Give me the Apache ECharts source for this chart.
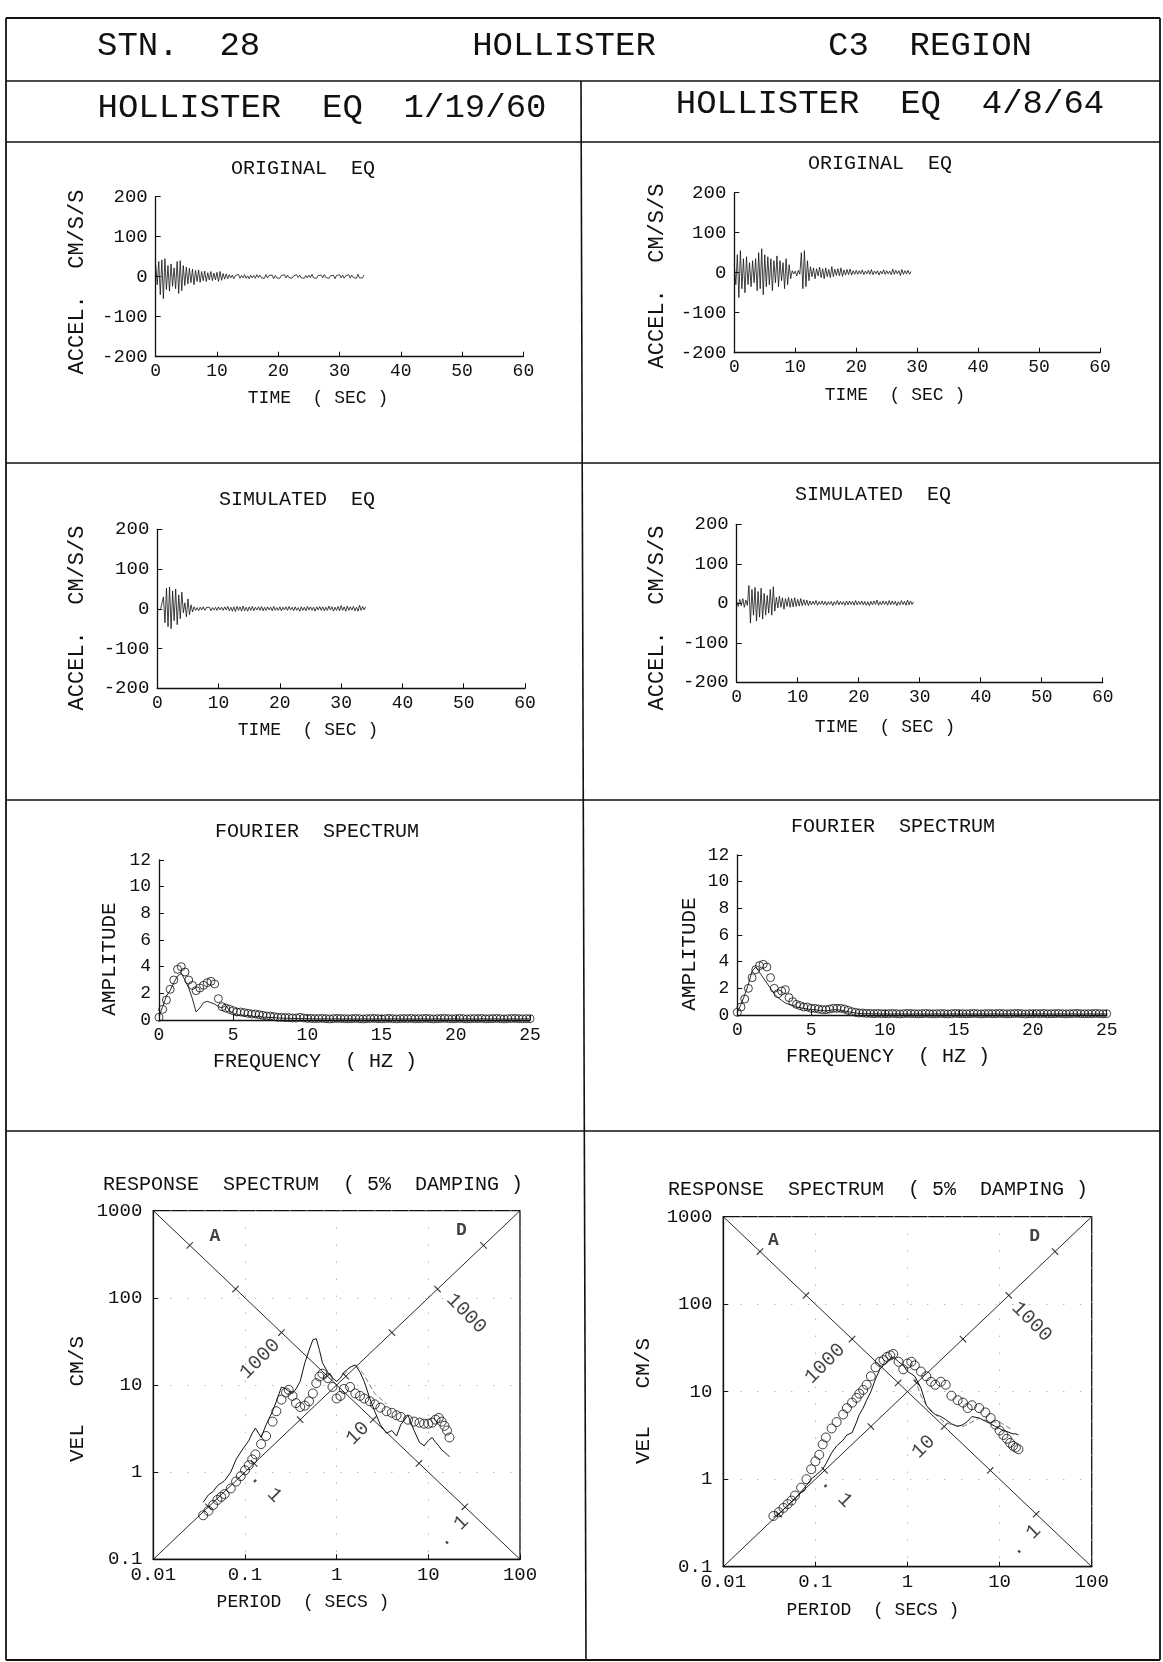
<!DOCTYPE html>
<html><head><meta charset="utf-8">
<script src="https://cdn.jsdelivr.net/npm/echarts/dist/echarts.min.js"></script>
<style>html,body{margin:0;padding:0;background:#fff}#c{width:1163px;height:1662px}</style>
</head><body><div id="c"></div><script>
// ---------------- DATA ----------------
const DT = 0.25; // seconds between samples of the acceleration records
const accelOrigL = [30,-20,38,-45,42,-55,45,-32,28,-36,32,-24,22,-30,38,-42,40,-35,28,-22,
 24,-18,21,-15,19,-20,16,-12,17,-14,13,-10,
 14,-12,10,-8,13,-10,9,-8,11,-12,13,-9,8,-6,7,-5,
 5,-3,4,-5,3,-2,6,-4,3,-3,5,-4,2,-5,4,-3,3,-4,5,-2,
 4,-3,2,-4,5,-3,3,-2,4,-5,3,-3,2,-4,3,-2,5,-3,4,-2,
 3,-4,2,-3,5,-2,4,-3,2,-4,3,-3,4,-2,6,-3,2,-4,3,-2,
 4,-3,5,-2,3,-4,2,-3,4,-5,3,-2,5,-3,4,-4,2,-3,5,-3,
 4,-2,3,-4,6,-3,2,-3,4];
const accelOrigR = [20,-30,45,-62,55,-40,35,-50,40,-30,25,-35,30,-25,35,-45,50,-40,60,-55,
 45,-35,40,-30,35,-45,30,-25,42,-35,30,-20,25,-40,35,-30,20,-15,
 5,-3,4,-8,6,-4,
 50,-40,55,-35,30,-20,
 15,-10,12,-15,10,-8,14,-12,10,-15,12,-10,8,-12,15,-10,9,-7,10,-8,12,-9,7,-6,8,-5,9,-6,5,-4,
 6,-4,5,-3,7,-5,4,-3,6,-4,8,-5,4,-3,5,-6,4,-3,7,-4,5,-3,4,-5,9,-4,6,-3,5,-7,8,-4,5,-3,6,-4,3];
const accelSimL = [0,2,-3,1,
 30,-35,52,-45,55,-50,45,-30,50,-40,35,-25,
 42,-10,15,-20,25,-15,10,-8,
 5,-4,3,-5,4,-3,5,-4,3,-2,4,-5,3,-3,4,-4,5,-3,4,-4,
 5,-3,6,-5,4,-6,5,-7,6,-4,5,-6,7,-5,4,-6,5,-4,6,-5,
 4,-3,5,-4,6,-5,4,-4,5,-3,4,-5,6,-4,3,-4,5,-5,4,-3,
 5,-4,6,-3,4,-5,5,-4,3,-6,5,-4,4,-5,6,-3,5,-4,4,-6,
 5,-3,6,-4,5,-5,4,-4,7,-3,5,-6,4,-4,6,-5,8,-4,5,-6,
 7,-4,5,-3,6,-5,4,-6,9,-4,6,-3,5];
const accelSimR = [5,-8,10,-6,12,-10,8,-5,
 45,-50,35,-30,40,-45,30,-35,38,-40,25,-30,20,-25,35,-30,42,-20,
 15,-12,18,-10,14,-15,12,-8,15,-10,12,-9,14,-8,10,-7,12,-6,9,-5,8,-6,
 6,-4,5,-3,7,-5,4,-3,6,-4,5,-5,4,-3,5,-6,4,-3,7,-4,
 5,-3,4,-5,6,-4,6,-3,5,-5,7,-4,5,-3,6,-4,5,-5,4,-6,
 5,-4,6,-3,8,-5,4,-4,6,-3,5,-5,7,-4,6,-3,5,-6,4,-4,
 7,-3,5,-5,8,-4,6,-3,4];

const freqs = [0,0.25,0.5,0.75,1,1.25,1.5,1.75,2,2.25,2.5,2.75,3,3.25,3.5,3.75,4,4.25,4.5,4.75,
 5,5.25,5.5,5.75,6,6.25,6.5,6.75,7,7.25,7.5,7.75,8,8.25,8.5,8.75,9,9.25,9.5,9.75,10,
 10.25,10.5,10.75,11,11.25,11.5,11.75,12,12.25,12.5,12.75,13,13.25,13.5,13.75,14,14.25,14.5,14.75,15,
 15.25,15.5,15.75,16,16.25,16.5,16.75,17,17.25,17.5,17.75,18,18.25,18.5,18.75,19,19.25,19.5,19.75,20,
 20.25,20.5,20.75,21,21.25,21.5,21.75,22,22.25,22.5,22.75,23,23.25,23.5,23.75,24,24.25,24.5,24.75,25];
const fourOrigL = [0.2,0.8,1.5,2.3,3.0,3.8,4.0,3.6,3.0,2.6,2.2,2.4,2.6,2.8,2.9,2.7,1.6,1.0,0.9,0.8,
 0.7,0.6,0.6,0.55,0.5,0.45,0.45,0.4,0.35,0.3,0.3,0.25,0.2,0.2,0.18,0.18,0.15,0.15,0.2,0.15,0.12,
 0.12,0.1,0.11,0.12,0.1,0.08,0.1,0.12,0.11,0.1,
 0.09,0.1,0.12,0.1,0.08,0.1,0.11,0.12,0.1,0.09,
 0.1,0.12,0.1,0.08,0.1,0.11,0.1,0.12,0.09,0.1,
 0.1,0.12,0.1,0.08,0.1,0.11,0.12,0.1,0.09,0.1,
 0.12,0.1,0.08,0.1,0.11,0.1,0.12,0.09,0.1,0.1,
 0.12,0.1,0.08,0.1,0.11,0.12,0.1,0.09,0.1,0.1];
const fourSimL = [0.3,1.0,1.8,2.2,2.8,3.3,3.5,3.0,2.4,1.6,0.6,0.9,1.3,1.4,1.3,1.2,1.0,0.9,1.1,0.7,
 0.5,0.35,0.4,0.3,0.35,0.3,0.25,0.3,0.2,0.22,0.18,0.2,0.15,0.15,0.12,0.14,0.1,0.12,0.1,0.1,0.1,
 0.08,0.09,0.07,0.08,0.09,0.07,0.08,0.1,0.07,0.08,
 0.09,0.07,0.08,0.07,0.09,0.08,0.07,0.08,0.09,0.07,
 0.08,0.07,0.09,0.08,0.07,0.08,0.09,0.07,0.08,0.07,
 0.09,0.08,0.07,0.08,0.09,0.07,0.08,0.07,0.09,0.08,
 0.07,0.08,0.09,0.07,0.08,0.07,0.09,0.08,0.07,0.08,
 0.09,0.07,0.08,0.07,0.09,0.08,0.07,0.08,0.09,0.07];
const fourOrigR = [0.2,0.6,1.2,2.0,2.8,3.4,3.7,3.8,3.6,2.8,2.0,1.6,1.8,1.9,1.3,1.0,0.8,0.7,0.6,0.6,
 0.5,0.5,0.45,0.4,0.4,0.45,0.5,0.5,0.5,0.45,0.35,0.25,0.2,0.15,0.15,0.12,0.12,0.1,0.12,0.1,0.1,
 0.1,0.12,0.1,0.08,0.1,0.12,0.11,0.1,0.09,0.1,
 0.12,0.1,0.09,0.1,0.11,0.1,0.08,0.1,0.12,0.1,
 0.1,0.09,0.1,0.12,0.1,0.08,0.1,0.11,0.1,0.1,
 0.12,0.1,0.09,0.1,0.11,0.12,0.1,0.08,0.1,0.1,
 0.11,0.1,0.12,0.09,0.1,0.1,0.12,0.1,0.08,0.1,
 0.11,0.12,0.1,0.09,0.1,0.1,0.12,0.1,0.09,0.1];
const fourSimR = [0.2,0.8,1.5,2.3,3.3,3.6,3.2,2.8,2.4,2.0,1.6,1.3,1.1,0.9,0.8,0.7,0.6,0.55,0.5,0.45,
 0.4,0.4,0.35,0.35,0.3,0.35,0.4,0.4,0.35,0.3,0.25,0.2,0.15,0.12,0.1,0.1,0.1,0.08,0.1,0.08,0.08,
 0.08,0.07,0.08,0.09,0.07,0.08,0.07,0.08,0.09,0.07,
 0.08,0.07,0.08,0.09,0.07,0.08,0.07,0.08,0.09,0.07,
 0.08,0.09,0.07,0.08,0.07,0.09,0.08,0.07,0.08,0.09,
 0.07,0.08,0.07,0.09,0.08,0.07,0.08,0.09,0.07,0.08,
 0.07,0.08,0.09,0.07,0.08,0.07,0.08,0.09,0.07,0.08,
 0.09,0.07,0.08,0.07,0.09,0.08,0.07,0.08,0.09,0.07];

const periods = [0.035,0.04,0.045,0.05,0.055,0.06,0.07,0.08,0.09,0.1,
 0.11,0.12,0.13,0.15,0.17,0.2,0.22,0.25,0.28,0.3,
 0.33,0.36,0.4,0.45,0.5,0.55,0.6,0.65,0.7,0.8,
 0.9,1.0,1.1,1.2,1.4,1.6,1.8,2.0,2.3,2.6,
 3.0,3.5,4.0,4.5,5.0,6.0,7.0,8.0,9.0,10,
 11,12,13,14,15,16,17];
const respOrigL = [0.32,0.36,0.42,0.48,0.52,0.56,0.65,0.78,0.9,1.05,
 1.2,1.4,1.6,2.1,2.6,3.8,5.0,6.8,8.2,8.8,
 7.5,6.2,5.6,5.8,6.5,8.0,10.5,12.5,13.5,12.0,
 9.5,7.0,7.5,9.0,9.5,8.0,7.5,7.0,6.5,6.0,
 5.5,5.0,4.8,4.5,4.3,4.0,3.8,3.7,3.6,3.6,
 3.7,4.0,4.2,3.8,3.4,3.0,2.5];
const respSimL = [0.45,0.55,0.6,0.7,0.75,0.8,1.0,1.4,1.7,2.0,
 2.3,2.8,3.2,2.5,3.5,5.0,6.5,9.5,9.0,8.5,
 8.0,9.0,11,18,25,33,34,25,18,14,
 12,11,12,14,16,17,14,11,7,5,
 3.5,2.8,3.0,2.6,3.5,4.5,3.0,2.2,2.0,2.3,
 2.5,2.2,2.0,1.8,1.7,1.6,1.5];
const respDashPeriodsL = [1.2,1.4,1.6,1.8,2.0,2.3,2.6,3.0,3.5];
const respDashL = [13,16,17,15,13,10,8,7,6];
const respOrigR = [0.38,0.42,0.47,0.52,0.57,0.65,0.8,1.0,1.3,1.6,
 1.9,2.5,3.0,3.8,4.5,5.5,6.5,7.5,8.5,9.5,
 10.5,12,15,19,22,23,25,26,27,22,
 18,21,22,20,17,15,13,12,13,12,
 9,8,7.5,6.5,7.0,6.5,5.8,5.0,4.2,3.6,
 3.2,2.9,2.6,2.4,2.3,2.2,null];
const respSimR = [0.37,0.4,0.45,0.5,0.55,0.6,0.72,0.85,1.0,1.1,
 1.2,1.3,1.5,2.0,2.4,2.8,3.2,3.4,4.5,5.5,
 6.5,8.0,10,14,18,20,22,24,25,22,
 20,17,16,15,11,7,6,5.5,5.2,4.8,
 4.3,4.0,4.2,4.6,5.2,5.0,4.6,4.3,4.0,3.8,
 3.6,3.5,3.4,3.3,3.3,3.2,null];
const respDashPeriodsR = [1.2,1.4,1.6,2.0,2.5,3.0,4.0,5.0,6.0,8.0,10,12,14];
const respDashR = [14,9,7,5.5,4.5,4.2,4.0,4.5,5.0,4.5,4.5,4.0,3.6];

// tripartite guide lines and their tick marks
const riseLine = [[0.01,0.1],[100,1000]];
const fallLine = [[0.01,1000],[100,0.1]];
const accelTickP = [0.025,0.079,0.25,0.79,2.5,7.9,25];
const accelTickV = [400,126,40,12.6,4,1.26,0.4];
const dispTickP = [0.04,0.126,0.4,1.26,4,12.6,40];
const dispTickV = [0.4,1.26,4,12.6,40,126,400];
// scale annotations: text, rotation, period, velocity
const annotTexts = ['A','D','1000','1000','10','. 1','. 1'];
const annotRot   = [0,0,45,-45,45,-45,45];
const annotPL = [0.047,23,0.146,26,1.7,0.17,18.5];
const annotVL = [500,600,20,66,2.8,0.68,0.21];
const annotPR = [0.035,24,0.127,22.3,1.49,0.17,18.9];
const annotVR = [540,590,21,63,2.35,0.72,0.2];

// ---------------- CHART ----------------
const INK = '#111';
const FF = 'Liberation Mono';
const FONT = '"Liberation Mono", "Courier New", monospace';
const chart = echarts.init(document.getElementById('c'), null, {renderer:'canvas'});

function pairs(xs, ys){ const o=[]; for(let i=0;i<xs.length;i++){ if(ys[i]!=null) o.push([xs[i],ys[i]]); } return o; }
function timePairs(vals){ return vals.map((v,i)=>[+(i*DT).toFixed(3), v]); }

const grids = [
 {left:155.7, top:196.7, width:367.7, height:160},
 {left:734.3, top:192.7, width:365.7, height:160},
 {left:157.3, top:529.3, width:367.7, height:159},
 {left:736.7, top:524.3, width:366, height:158},
 {left:159, top:860, width:371, height:160},
 {left:737.3, top:855, width:369.4, height:160},
 {left:153.3, top:1210.7, width:366.7, height:348.6, show:true, borderColor:INK, borderWidth:1.3},
 {left:723.3, top:1216.7, width:368.4, height:350, show:true, borderColor:INK, borderWidth:1.3}
];

function linX(gi, max, interval){ return {type:'value', gridIndex:gi, min:0, max, interval,
 axisLine:{show:true, onZero:false, lineStyle:{color:INK, width:1.3}},
 axisTick:{show:true, inside:true, length:5, lineStyle:{color:INK}},
 splitLine:{show:false}, axisLabel:{color:INK, fontFamily:FF, fontSize:18, margin:6}}; }
function linY(gi, min, max, interval){ return {type:'value', gridIndex:gi, min, max, interval,
 axisLine:{show:true, onZero:false, lineStyle:{color:INK, width:1.3}},
 axisTick:{show:true, inside:true, length:5, lineStyle:{color:INK}},
 splitLine:{show:false}, axisLabel:{color:INK, fontFamily:FF, fontSize:19, margin:8}}; }
function logAx(gi, min, max, isY){ return {type:'log', logBase:10, gridIndex:gi, min, max,
 axisLine:{show:true, onZero:false, lineStyle:{color:INK, width:1.3}},
 axisTick:{show:true, inside:true, length:5, lineStyle:{color:INK}},
 splitLine:{show:true, lineStyle:{color:'#9a9a9a', type:[1,16], width:1}},
 axisLabel:{color:INK, fontFamily:FF, fontSize:19, margin: isY?11:6, formatter: v => String(v)}}; }

const xAxis = [linX(0,60,10), linX(1,60,10), linX(2,60,10), linX(3,60,10), linX(4,25,5), linX(5,25,5),
 logAx(6,0.01,100,false), logAx(7,0.01,100,false)];
const yAxis = [linY(0,-200,200,100), linY(1,-200,200,100), linY(2,-200,200,100), linY(3,-200,200,100),
 linY(4,0,12,2), linY(5,0,12,2), logAx(6,0.1,1000,true), logAx(7,0.1,1000,true)];
yAxis[4].axisLabel.fontSize = 18; yAxis[5].axisLabel.fontSize = 18;

const series = [];
[[accelOrigL,0],[accelOrigR,1],[accelSimL,2],[accelSimR,3]].forEach(([a,gi])=>{
 series.push({type:'line', xAxisIndex:gi, yAxisIndex:gi, data:timePairs(a), showSymbol:false, symbol:'none',
  lineStyle:{color:INK, width:0.8}, silent:true});
});
function circles(gi, data, size){ return {type:'scatter', xAxisIndex:gi, yAxisIndex:gi, data, symbol:'circle', symbolSize:size,
 itemStyle:{color:'rgba(0,0,0,0)', borderColor:INK, borderWidth:1}, silent:true, z:4}; }
function trace(gi, data, w, dash){ return {type:'line', xAxisIndex:gi, yAxisIndex:gi, data, showSymbol:false, symbol:'none',
 lineStyle:{color:dash?'#555':INK, width:w, type:dash?[5,3]:'solid'}, silent:true, z:3}; }
series.push(trace(4, pairs(freqs, fourSimL), 0.9));
series.push(circles(4, pairs(freqs, fourOrigL), 8));
series.push(trace(5, pairs(freqs, fourSimR), 0.9));
series.push(circles(5, pairs(freqs, fourOrigR), 8));

function tripartite(gi, orig, sim, dp, dv, ap, av){
 series.push(trace(gi, riseLine, 0.9));
 series.push(trace(gi, fallLine, 0.9));
 series.push({type:'scatter', xAxisIndex:gi, yAxisIndex:gi, data:pairs(accelTickP, accelTickV), symbol:'rect',
  symbolSize:[1.2,9], symbolRotate:-45, itemStyle:{color:INK}, silent:true, z:3});
 series.push({type:'scatter', xAxisIndex:gi, yAxisIndex:gi, data:pairs(dispTickP, dispTickV), symbol:'rect',
  symbolSize:[1.2,9], symbolRotate:45, itemStyle:{color:INK}, silent:true, z:3});
 series.push(trace(gi, pairs(periods, sim), 1));
 series.push(trace(gi, pairs(dp, dv), 0.8, true));
 series.push(circles(gi, pairs(periods, orig), 9));
 series.push({type:'scatter', xAxisIndex:gi, yAxisIndex:gi, symbol:'circle', symbolSize:1,
  itemStyle:{color:'rgba(0,0,0,0)'}, silent:true, z:6,
  data: annotTexts.map((t,i)=>({name:t, value:[ap[i], av[i]],
   label:{show:true, position:'inside', formatter:'{b}', rotate:annotRot[i], color:INK, fontFamily:FF,
     fontSize: (t==='A'||t==='D')?18:20, fontWeight:(t==='A'||t==='D')?'bold':'normal'}}))});
}
tripartite(6, respOrigL, respSimL, respDashPeriodsL, respDashL, annotPL, annotVL);
tripartite(7, respOrigR, respSimR, respDashPeriodsR, respDashR, annotPR, annotVR);

// ---------------- FRAME & TEXT ----------------
const g = [];
function ln(x1,y1,x2,y2,w){ g.push({type:'line', shape:{x1,y1,x2,y2}, style:{stroke:INK, lineWidth:w||1.5}, silent:true}); }
function tx(x,y,s,size,rot,align){ g.push({type:'text', x, y, rotation:rot||0, silent:true, z:10,
 style:{text:s, fill:INK, font:`normal ${size}px ${FONT}`, align:align||'center', verticalAlign:'middle',
  textAlign:align||'center', textVerticalAlign:'middle'}}); }
ln(6,18,1160,18,1.8); ln(6,1660,1160,1660,1.8); ln(6,18,6,1660,1.8); ln(1160,18,1160,1660,1.8);
[81,142,463,800,1131].forEach(y=>ln(6,y,1160,y,1.6));
ln(581,81,586,1660,1.6);

tx(97,46,'STN.  28',34,0,'left');
tx(564,46,'HOLLISTER',34);
tx(930,46,'C3  REGION',34);
tx(322,108,'HOLLISTER  EQ  1/19/60',34);
tx(890,104,'HOLLISTER  EQ  4/8/64',34);

tx(303,169,'ORIGINAL  EQ',20); tx(880,164,'ORIGINAL  EQ',20);
tx(297,500,'SIMULATED  EQ',20); tx(873,495,'SIMULATED  EQ',20);
tx(317,832,'FOURIER  SPECTRUM',20); tx(893,827,'FOURIER  SPECTRUM',20);
tx(313,1185,'RESPONSE  SPECTRUM  ( 5%  DAMPING )',20); tx(878,1190,'RESPONSE  SPECTRUM  ( 5%  DAMPING )',20);

tx(318,398,'TIME  ( SEC )',18); tx(895,395,'TIME  ( SEC )',18);
tx(308,730,'TIME  ( SEC )',18); tx(885,727,'TIME  ( SEC )',18);
tx(315,1062,'FREQUENCY  ( HZ )',20); tx(888,1057,'FREQUENCY  ( HZ )',20);
tx(303,1602,'PERIOD  ( SECS )',18); tx(873,1610,'PERIOD  ( SECS )',18);

const R = Math.PI/2;
tx(77,282,'ACCEL.  CM/S/S',22,R); tx(657,276,'ACCEL.  CM/S/S',22,R);
tx(77,618,'ACCEL.  CM/S/S',22,R); tx(657,618,'ACCEL.  CM/S/S',22,R);
tx(109,959,'AMPLITUDE',21,R); tx(689,954,'AMPLITUDE',21,R);
tx(77,1399,'VEL   CM/S',21,R); tx(643,1401,'VEL   CM/S',21,R);

chart.setOption({animation:false, backgroundColor:'#fff', grid:grids, xAxis, yAxis, series, graphic:{elements:g}});
</script></body></html>
